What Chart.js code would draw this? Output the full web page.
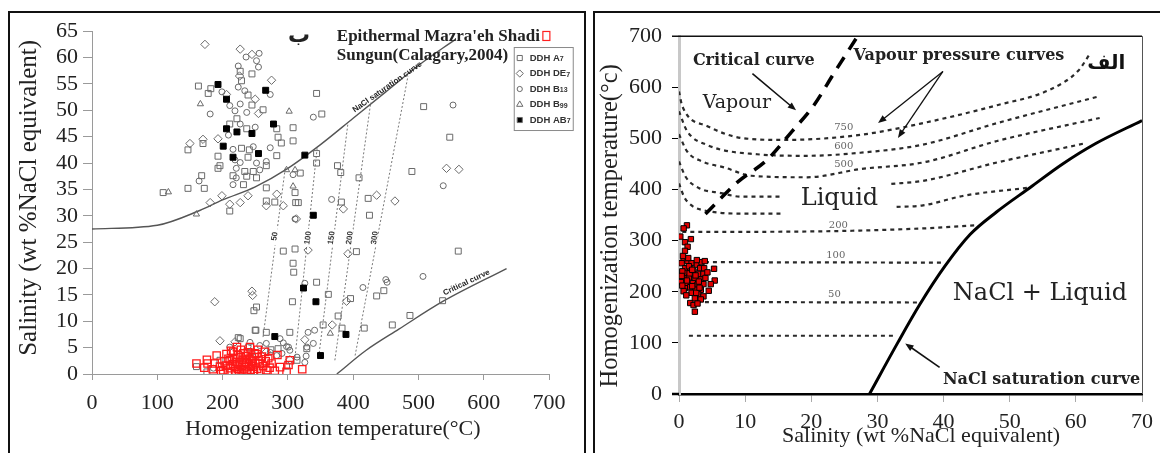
<!DOCTYPE html>
<html>
<head>
<meta charset="utf-8">
<script src="https://cdn.jsdelivr.net/npm/chart.js@4.4.0/dist/chart.umd.min.js"></script>
<style>
  html, body { margin: 0; padding: 0; background: #fff; }
  body { width: 1160px; height: 453px; position: relative; overflow: hidden; }
  .panel { position: absolute; top: 11px; height: 460px; border: 2px solid #111; border-bottom: none; box-sizing: border-box; }
  #panelLeft { left: 8px; width: 578px; }
  #panelRight { left: 593px; width: 580px; }
  canvas { position: absolute; }
  #leftChart { left: 10px; top: 13px; }
  #rightChart { left: 596px; top: 13px; }
</style>
</head>
<body>
<div class="panel" id="panelLeft"></div>
<div class="panel" id="panelRight"></div>
<canvas id="leftChart" width="573" height="440"></canvas>
<canvas id="rightChart" width="564" height="440"></canvas>
<script>
const SERIF = "'Liberation Serif', 'Times New Roman', serif";
const WIDE_SERIF = "'DejaVu Serif', serif";
const SANS = "'Liberation Sans', Arial, sans-serif";

// ---- left chart: salinity vs homogenization temperature, [temp, salinity] ----
const ddhA7 = [
  [227,57.4],[245,56.9],[229,55.6],[163,54.6],[182,54.1],[178,53.2],[239,52.9],[245,51.0],[262,50.1],
  [222,48.4],[211,47.4],[237,46.5],[283,46.5],[308,46.7],[285,44.9],[308,44.2],[290,43.8],[170,43.7],
  [147,42.5],[229,42.8],[241,42.5],[193,41.3],[239,41.1],[283,41.4],[267,39.5],[196,39.5],[193,39],
  [234,38.4],[247,38.4],[216,37.6],[237,37.5],[252,37.2],[168,37.6],[147,35.2],[172,35.2],[109,34.4],
  [211,30.9],[232,35.9],[267,35.3],[267,32.8],[280,32.6],[312,32.5],[311,34.4],
  [344,53.2],[352,49.3],[344,41.8],[344,40],[376,39.5],[381,38.2],[409,37.2],[490,38.4],[508,50.7],
  [548,44.9],[316,32.5],[319,38.1],[382,32.6],[423,33.3],[425,30.1],
  [293,23.3],[311,23.7],[405,23.2],[561,23.3],[308,21],[309,19.3],[344,17.4],[307,13.7],[436,14.8],
  [447,15.8],[362,15.1],[396,14.3],[537,13.9],[487,11.1],[460,9.3],[417,8.7],[377,11],[354,9.3],
  [383,8.7],[303,7.9],[329,4.8],[252,12.7],[248,12],[250,8.3],[267,7.9],[227,6.7],[245,4.2],[274,4.6],
  [160,1.4],[176,0.4],[196,2.6],[298,1.5],[224,6.9],[251,8.3],[314,2.6],[285,4.8]
];
const ddhDE7 = [
  [173,62.5],[227,61.6],[245,60.6],[226,56.5],[275,55.7],[206,53.0],[250,52.1],[255,49.4],[150,43.7],
  [170,44.5],[193,44.6],[199,33.8],[181,32.5],[211,32.2],[227,32.5],[239,33.8],[283,34.1],[267,31.9],
  [293,31.9],[543,39],[562,38.8],[313,29.4],[385,31.3],[436,33.9],[464,32.8],[331,23.5],[392,22.8],
  [390,13.8],[368,9.3],[326,6.5],[188,13.7],[245,15.7],[246,14.9],[196,6.3],[219,6.1],[267,4.2],[303,2.7]
];
const ddhB13 = [
  [236,60.1],[256,60.8],[252,59.4],[255,58.2],[224,58.4],[199,53.5],[224,54.4],[234,53.7],[273,53],
  [181,49.3],[211,50.9],[227,51.2],[219,49.9],[237,49.6],[227,47.4],[250,46.8],[273,42.9],[209,45.3],
  [216,42.6],[247,43.1],[219,40.6],[227,40.1],[252,40],[267,40.3],[221,39],[257,38.7],[221,37.2],
  [164,36.6],[216,35.9],[308,37.8],[311,29.4],[339,48.7],[553,51.0],[538,35.7],[367,33.1],
  [507,18.5],[450,17.9],[452,17.4],[326,17.2],[415,16.4],[331,7.9],[341,8.3],[298,5.2],[328,3.4],
  [288,6.7],[239,5.2],[293,5.9],[301,5.1],[283,3.5],[186,1.1],[211,5.1],[242,6.0],[257,5.4],[267,5.8],
  [273,4.1],[291,3.9],[303,4.5],[314,3.2],[329,5.1],[339,5.8],[326,2.2]
];
const ddhB99 = [[166,51.2],[302,49.8],[298,38.7],[117,34.5],[160,30.3],[308,35.6],[311,38.7],[365,7.7]];
const ddhAB7 = [
  [193,54.9],[206,52.1],[266,53.8],[206,46.5],[222,45.9],[245,45.6],[278,47.4],[201,43.2],[255,41.8],
  [216,41.1],[326,41.5],[339,30.1],[324,16.3],[343,13.7],[389,7.5],[350,3.5],[280,7.1]
];
const mazraehShadi = [
  [160,2.0],[176,2.7],[177,2.0],[172,1.2],[185,0.9],[188,2.0],[191,3.5],[196,1.4],[198,0.5],[201,0.7],
  [203,2.4],[205,1.6],[206,3.8],[208,0.4],[209,2.9],[211,2.6],[212,1.1],[213,4.4],[214,0.2],[216,4.2],
  [216,1.9],[218,3.0],[219,1.4],[220,0.6],[221,2.3],[222,5.1],[223,3.6],[224,1.0],[225,2.0],[226,0.3],
  [227,3.2],[228,4.6],[229,0.7],[230,1.6],[231,2.7],[232,3.9],[233,0.9],[234,2.2],[235,1.3],[236,3.4],
  [237,2.3],[238,0.5],[239,4.1],[240,1.8],[241,2.9],[242,5.1],[243,0.8],[244,1.5],[245,3.2],[246,2.5],
  [247,1.4],[248,0.4],[249,3.9],[250,2.1],[252,3.8],[253,1.0],[254,4.6],[255,2.6],[257,2.0],[258,0.6],
  [260,3.3],[262,1.5],[265,4.2],[266,2.4],[267,0.7],[270,3.0],[272,1.2],[275,2.0],[280,0.6],[284,3.6],
  [288,1.3],[298,0.4],[301,1.7],[303,2.6],[322,0.9]
];
const naclSatLeft = [[0,27.5],[100,28.2],[165,31],[200,33],[250,35.5],[300,39],[350,43.5],[400,48.5],[450,53.5],[500,58.5],[557,63.5]];
const criticalLeft = [[375,0],[420,4.5],[470,8.5],[538,13.8],[635,20]];
const isochoreNames = ['50', '100', '150', '200', '300'];
const isochores = [
  [[262,7],[296,39]],
  [[311,3.2],[345,43]],
  [[348,4],[392,47.5]],
  [[372,2.6],[427,51.5]],
  [[403,3.5],[484,56.5]]
];
const isochoreLabelAt = [[280,26.1],[331,25.8],[367,25.8],[395,25.8],[433,25.8]];

// ---- right chart: temperature vs salinity, [salinity, temp] ----
const fluidIncl = [
  [1.2,330],[0.7,324],[0.2,308],[1.8,303],[0.9,297],[1.3,288],[0.9,280],[0.7,264],[1.3,260],[0.4,256],
  [1.9,256],[2.7,253],[3.4,258],[3.9,260],[5.3,245],[0.9,246],[1.7,246],[3.2,246],[3.8,246],[1.0,237],
  [2.2,240],[2.9,235],[3.7,235],[0.7,227],[1.5,228],[2.4,226],[3.3,224],[4.0,227],[5.4,222],[0.3,219],
  [1.2,215],[2.1,217],[2.8,214],[3.7,215],[4.8,215],[0.9,207],[1.7,209],[2.5,204],[3.3,204],[4.5,202],
  [0.7,201],[1.9,198],[2.9,195],[3.7,191],[2.4,187],[3.3,185],[1.7,178],[2.2,174],[2.8,177],[2.4,161],
  [0.5,240],[1.5,250],[2.5,232],[3.0,220],[1.2,222],[2.0,211],[0.4,231],[1.1,193],[2.6,198],[3.1,208],
  [1.6,236],[4.3,238],[0.5,212],[2.0,243],[2.7,262],[1.4,266],[0.6,270]
];
const vp750 = [[0,592],[0.5,563],[4.3,524],[9.4,501],[15.9,497],[27.4,507],[36.9,530],[48.1,565],[56,595],[60.4,633],[62.1,665]];
const vp600 = [[0,553],[1.2,515],[4.3,487],[11.8,469],[19.3,466],[27.4,472],[36.9,488],[48.1,530],[63.4,582]];
const vp500 = [[0,508],[1.2,475],[3.5,455],[6.9,443],[10.9,427],[19.4,424],[27.4,440],[36.9,453],[48.1,495],[63.6,540]];
const vp400a = [[0,455],[1,425],[3,403],[6.4,393],[9.4,386],[15.4,386]];
const vp400b = [[32.1,411],[36.9,417],[48.1,453],[61.6,491]];
const vp300a = [[0,412],[0.8,385],[2,368],[3.9,359],[9.4,353],[15.9,353]];
const vp300b = [[32.9,366],[36.9,369],[43.1,388],[53.1,404]];
const line200 = [[0.5,317],[20,318],[37,324],[45,330]];
const line100 = [[1.5,258],[40.1,257]];
const line50 = [[1.5,180],[36.4,179]];
const lineLow = [[1.5,114],[32.6,114]];
const criticalRight = [[4,352],[8.8,414],[13.3,458],[16.9,511],[20.4,565],[23.4,627],[27,700]];
const naclSatRight = [[28.8,0],[33.1,101],[36.4,175],[40.2,250],[44,312],[48,356],[53.1,404],[58,450],[63,490],[70,535]];

const toXY = arr => arr.map(([x, y]) => ({ x, y }));

function curve(arr, color, width, dash) {
  return { data: toXY(arr), showLine: true, borderColor: color, borderWidth: width,
           borderDash: dash || [], pointRadius: 0, cubicInterpolationMode: 'monotone', fill: false };
}

function marks(arr, style, radius, stroke, fill, lw) {
  return { data: toXY(arr), showLine: false, pointStyle: style, pointRadius: radius,
           pointBorderColor: stroke, pointBackgroundColor: fill, pointBorderWidth: lw };
}

function label(ctx, str, x, y, font, color, align, angle, baseline) {
  ctx.save();
  ctx.translate(x, y);
  ctx.rotate(angle || 0);
  ctx.font = font;
  ctx.fillStyle = color;
  ctx.textAlign = align || 'left';
  ctx.textBaseline = baseline || 'middle';
  ctx.fillText(str, 0, 0);
  ctx.restore();
}

function arrow(ctx, x1, y1, x2, y2, head, width) {
  const a = Math.atan2(y2 - y1, x2 - x1);
  ctx.save();
  ctx.strokeStyle = '#111';
  ctx.fillStyle = '#111';
  ctx.lineWidth = width;
  ctx.beginPath();
  ctx.moveTo(x1, y1);
  ctx.lineTo(x2 - Math.cos(a) * head * 0.7, y2 - Math.sin(a) * head * 0.7);
  ctx.stroke();
  ctx.beginPath();
  ctx.moveTo(x2, y2);
  ctx.lineTo(x2 - head * Math.cos(a - 0.38), y2 - head * Math.sin(a - 0.38));
  ctx.lineTo(x2 - head * Math.cos(a + 0.38), y2 - head * Math.sin(a + 0.38));
  ctx.closePath();
  ctx.fill();
  ctx.restore();
}

function symbol(ctx, style, x, y, r, stroke, fill) {
  ctx.save();
  ctx.strokeStyle = stroke;
  ctx.fillStyle = fill;
  ctx.lineWidth = 1;
  ctx.beginPath();
  if (style === 'rect') {
    const s = r * Math.SQRT1_2;
    ctx.rect(x - s, y - s, 2 * s, 2 * s);
  } else if (style === 'rectRot') {
    ctx.moveTo(x - r, y); ctx.lineTo(x, y - r); ctx.lineTo(x + r, y); ctx.lineTo(x, y + r); ctx.closePath();
  } else if (style === 'circle') {
    ctx.arc(x, y, r, 0, Math.PI * 2);
  } else {
    ctx.moveTo(x, y - r); ctx.lineTo(x + r * 0.87, y + r * 0.5); ctx.lineTo(x - r * 0.87, y + r * 0.5); ctx.closePath();
  }
  ctx.fill();
  ctx.stroke();
  ctx.restore();
}

const GRAY = '#6a6a6a';

// labels, legend and titles drawn over the left plot
const leftDecor = {
  id: 'leftDecor',
  afterDatasetsDraw(chart) {
    const { ctx, chartArea, scales: { x, y } } = chart;

    // isochore numbers sitting on their dotted lines
    isochoreLabelAt.forEach(([t, s], i) => {
      const px = x.getPixelForValue(t), py = y.getPixelForValue(s);
      ctx.save();
      ctx.fillStyle = '#fff';
      ctx.fillRect(px - 3, py - 9, 6, 18);
      ctx.restore();
      label(ctx, isochoreNames[i], px, py, 'bold 8px ' + SANS, '#333', 'center', -1.43);
    });

    label(ctx, 'NaCl saturation curve', x.getPixelForValue(404), y.getPixelForValue(49.3),
          'bold 8px ' + SANS, '#222', 'left', -0.61, 'bottom');
    label(ctx, 'Critical curve', x.getPixelForValue(541), y.getPixelForValue(14.6),
          'bold 8px ' + SANS, '#222', 'left', -0.44, 'bottom');

    // heading
    const hx = x.getPixelForValue(375);
    const font = 'bold 17px ' + SERIF;
    label(ctx, "Epithermal Mazra'eh Shadi", hx, y.getPixelForValue(64.0), font, '#222');
    label(ctx, 'Sungun(Calagary,2004)', hx, y.getPixelForValue(60.3), font, '#222');
    ctx.save();
    ctx.font = font;
    const w = ctx.measureText("Epithermal Mazra'eh Shadi").width;
    ctx.strokeStyle = '#ff2020';
    ctx.lineWidth = 1.2;
    ctx.strokeRect(hx + w + 3, y.getPixelForValue(64.0) - 5, 7, 9);
    ctx.restore();
    label(ctx, 'ب', x.getPixelForValue(317), y.getPixelForValue(64.0), 'bold 22px "DejaVu Sans"', '#222', 'center');

    // legend box
    const lx = x.getPixelForValue(646), ly = y.getPixelForValue(62);
    ctx.save();
    ctx.fillStyle = '#fff';
    ctx.strokeStyle = '#8a8a8a';
    ctx.lineWidth = 1;
    ctx.fillRect(lx, ly, 59, 83);
    ctx.strokeRect(lx + 0.5, ly + 0.5, 59, 83);
    ctx.restore();
    const items = [
      ['DDH A', '7', 'rect', '#fff'], ['DDH DE', '7', 'rectRot', '#fff'], ['DDH B', '13', 'circle', '#fff'],
      ['DDH B', '99', 'triangle', '#fff'], ['DDH AB', '7', 'rect', '#000']
    ];
    items.forEach(([main, sub, style, fill], i) => {
      const ey = ly + 11 + i * 15.5;
      symbol(ctx, style, lx + 6, ey, style === 'circle' ? 2.6 : 3.6, GRAY, fill);
      ctx.save();
      ctx.font = 'bold 9.5px ' + SANS;
      ctx.fillStyle = '#333';
      ctx.textBaseline = 'middle';
      ctx.fillText(main, lx + 16, ey);
      const mw = ctx.measureText(main).width;
      ctx.font = 'bold 7px ' + SANS;
      ctx.fillText(sub, lx + 16 + mw, ey + 1.5);
      ctx.restore();
    });

    // axis titles
    label(ctx, 'Homogenization temperature(°C)', x.getPixelForValue(369), chartArea.bottom + 55,
          '22px ' + SERIF, '#222', 'center');
    label(ctx, 'Salinity (wt %NaCl equivalent)', chartArea.left - 63, y.getPixelForValue(33.4),
          '25px ' + SERIF, '#222', 'center', -Math.PI / 2);
  }
};

new Chart(document.getElementById('leftChart'), {
  type: 'scatter',
  data: {
    datasets: [
      marks(mazraehShadi, 'rect', 5.2, '#ff1a1a', 'rgba(0,0,0,0)', 1.3),
      marks(ddhAB7, 'rect', 4.2, '#000', '#000', 1),
      marks(ddhA7, 'rect', 4.2, GRAY, 'rgba(0,0,0,0)', 1),
      marks(ddhDE7, 'rectRot', 4.2, GRAY, 'rgba(0,0,0,0)', 1),
      marks(ddhB13, 'circle', 3.0, GRAY, 'rgba(0,0,0,0)', 1),
      marks(ddhB99, 'triangle', 3.6, GRAY, 'rgba(0,0,0,0)', 1),
      curve(naclSatLeft, '#555', 1.4),
      curve(criticalLeft, '#555', 1.4),
      ...isochores.map(seg => curve(seg, '#777', 1, [2, 2]))
    ]
  },
  options: {
    responsive: false,
    devicePixelRatio: 1,
    animation: false,
    events: [],
    layout: { padding: { top: 13, right: 34, bottom: 0, left: 0 } },
    plugins: { legend: { display: false }, tooltip: { enabled: false } },
    scales: {
      x: {
        type: 'linear', min: 0, max: 700,
        ticks: { stepSize: 100, autoSkip: false, padding: 10, color: '#222', font: { family: SERIF, size: 22 } },
        grid: { drawOnChartArea: false, color: '#9a9a9a', tickLength: 6 },
        border: { color: '#9a9a9a', width: 1 },
        afterFit(s) { s.height = 79; }
      },
      y: {
        type: 'linear', min: 0, max: 65,
        ticks: { stepSize: 5, autoSkip: false, padding: 5, color: '#222', font: { family: SERIF, size: 22 } },
        grid: { drawOnChartArea: false, color: '#9a9a9a', tickLength: 9 },
        border: { color: '#9a9a9a', width: 1 },
        afterFit(s) { s.width = 82; }
      }
    }
  },
  plugins: [leftDecor]
});

// frame, phase-field names and arrows on the right plot
const rightDecor = {
  id: 'rightDecor',
  beforeDatasetsDraw(chart) {
    const { ctx, chartArea: a } = chart;
    ctx.save();
    ctx.strokeStyle = '#111';
    ctx.lineWidth = 1.5;
    ctx.beginPath();
    ctx.moveTo(a.left - 7, a.top);
    ctx.lineTo(a.right, a.top);
    ctx.stroke();
    ctx.strokeStyle = '#555';
    ctx.lineWidth = 1;
    ctx.beginPath();
    ctx.moveTo(a.right + 0.5, a.top);
    ctx.lineTo(a.right + 0.5, a.bottom);
    ctx.stroke();
    ctx.strokeStyle = '#000';
    ctx.lineWidth = 2.5;
    ctx.beginPath();
    ctx.moveTo(a.left - 7, a.bottom);
    ctx.lineTo(a.left, a.bottom);
    ctx.stroke();
    ctx.restore();
  },
  afterDatasetsDraw(chart) {
    const { ctx, chartArea: a, scales: { x, y } } = chart;
    const P = (s, t) => [x.getPixelForValue(s), y.getPixelForValue(t)];

    const small = '10px ' + WIDE_SERIF;
    [['750', 24.9, 522], ['600', 24.9, 484], ['500', 24.9, 449], ['200', 24.1, 329], ['100', 23.7, 271], ['50', 23.5, 195]]
      .forEach(([txt, s, t]) => label(ctx, txt, ...P(s, t), small, '#666', 'center'));

    label(ctx, 'Critical curve', ...P(2.1, 652), 'bold 16px ' + WIDE_SERIF, '#222');
    label(ctx, 'Vapour', ...P(3.6, 569), '19px ' + WIDE_SERIF, '#222');
    label(ctx, 'Vapour pressure curves', ...P(26.4, 661), 'bold 16px ' + WIDE_SERIF, '#222');
    label(ctx, 'Liquid', ...P(18.4, 381), '24px ' + WIDE_SERIF, '#222');
    label(ctx, 'NaCl + Liquid', ...P(41.4, 197), '24px ' + WIDE_SERIF, '#222');
    label(ctx, 'الف', ...P(64.6, 646), 'bold 20px "DejaVu Sans"', '#111', 'center');

    ctx.save();
    ctx.beginPath();
    ctx.rect(a.left, a.top, a.right - a.left, a.bottom - a.top);
    ctx.clip();
    label(ctx, 'NaCl saturation curve', ...P(39.9, 27), 'bold 16px ' + WIDE_SERIF, '#222');
    ctx.restore();

    arrow(ctx, ...P(11.1, 627), ...P(17.7, 555), 9, 1.6);
    arrow(ctx, ...P(39.9, 631), ...P(30.1, 530), 9, 1.3);
    arrow(ctx, ...P(39.9, 631), ...P(33.1, 501), 9, 1.3);
    arrow(ctx, ...P(39.4, 52), ...P(34.2, 99), 9, 1.6);

    label(ctx, 'Salinity (wt %NaCl equivalent)', x.getPixelForValue(36.6), a.bottom + 42,
          '22px ' + SERIF, '#222', 'center');
    label(ctx, 'Homogenization temperature(°c)', a.left - 68, y.getPixelForValue(329),
          '24.5px ' + SERIF, '#222', 'center', -Math.PI / 2);
  }
};

const VP = '#2a2a2a';
new Chart(document.getElementById('rightChart'), {
  type: 'scatter',
  data: {
    datasets: [
      marks(fluidIncl, 'rect', 3.8, '#000', '#e00000', 1),
      curve(naclSatRight, '#000', 3),
      curve(criticalRight, '#000', 3.5, [13, 9]),
      curve(vp750, VP, 2.2, [4, 4]),
      curve(vp600, VP, 2.2, [4, 4]),
      curve(vp500, VP, 2.2, [4, 4]),
      curve(vp400a, VP, 2.2, [4, 4]),
      curve(vp400b, VP, 2.2, [4, 4]),
      curve(vp300a, VP, 2.2, [4, 4]),
      curve(vp300b, VP, 2.2, [4, 4]),
      curve(line200, VP, 2.2, [4, 4]),
      curve(line100, VP, 2.2, [4, 4]),
      curve(line50, VP, 2.2, [4, 4]),
      curve(lineLow, VP, 2.2, [4, 4])
    ]
  },
  options: {
    responsive: false,
    devicePixelRatio: 1,
    animation: false,
    events: [],
    layout: { padding: { top: 19, right: 14, bottom: 0, left: 0 } },
    plugins: { legend: { display: false }, tooltip: { enabled: false } },
    scales: {
      x: {
        type: 'linear', min: 0, max: 70,
        ticks: { stepSize: 10, autoSkip: false, padding: 7, color: '#222', font: { family: SERIF, size: 22 } },
        grid: { drawOnChartArea: false, color: '#aaa', tickLength: 8 },
        border: { color: '#000', width: 2.5 },
        afterFit(s) { s.height = 59; }
      },
      y: {
        type: 'linear', min: 0, max: 700,
        ticks: { stepSize: 100, autoSkip: false, padding: 10, color: '#222', font: { family: SERIF, size: 22 } },
        grid: { drawOnChartArea: false, color: '#000', tickLength: 7 },
        border: { color: '#c8c8c8', width: 3 },
        afterFit(s) { s.width = 83; }
      }
    }
  },
  plugins: [rightDecor]
});
</script>
</body>
</html>
